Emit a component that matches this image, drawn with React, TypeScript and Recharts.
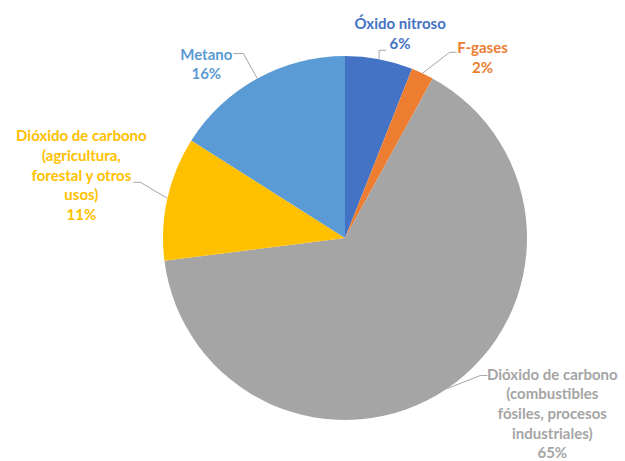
import { Cell, Pie, PieChart } from 'recharts'

// values (percent of total emissions)
const gases = [
  'Óxido nitroso',
  'F-gases',
  'Dióxido de carbono (combustibles fósiles, procesos industriales)',
  'Dióxido de carbono (agricultura, forestal y otros usos)',
  'Metano',
]
const shares = [6, 2, 65, 11, 16]
const labelLines = [
  ['Óxido nitroso'],
  ['F-gases'],
  ['Dióxido de carbono', '(combustibles', 'fósiles, procesos', 'industriales)'],
  ['Dióxido de carbono', '(agricultura,', 'forestal y otros', 'usos)'],
  ['Metano'],
]
const colors = ['#4472C4', '#ED7D31', '#A5A5A5', '#FFC000', '#5B9BD5']

// leader line + text placement for each slice
// elbow: offset from the slice's arc midpoint, run: horizontal segment,
// text: offset of the text block (center x, first line y) from line end
const layout = [
  { elbow: [0, -9], run: 7, text: [14, -27] },
  { elbow: [27, -21], run: 7, text: [26, -5] },
  { elbow: [33, -13], run: 7, text: [65, -2] },
  { elbow: [-27, -16], run: -7, text: [-52, -47] },
  { elbow: [-14, -25], run: -10, text: [-27, 0] },
]

const data = gases.map((name, i) => ({ name, value: shares[i] }))

const RAD = Math.PI / 180
const LINE_H = 19.7

function renderLabel(props: any) {
  const { cx, cy, midAngle, outerRadius, index, value } = props
  const ax = cx + outerRadius * Math.cos(-midAngle * RAD)
  const ay = cy + outerRadius * Math.sin(-midAngle * RAD)
  const l = layout[index]
  const ex = ax + l.elbow[0]
  const ey = ay + l.elbow[1]
  const hx = ex + l.run
  const tx = hx + l.text[0]
  const ty = ey + l.text[1]
  const lines = [...labelLines[index], `${value}%`]
  return (
    <g key={`lbl-${index}`}>
      <polyline
        points={`${ax},${ay} ${ex},${ey} ${hx},${ey}`}
        fill="none"
        stroke="#a6a6a6"
        strokeWidth={1}
      />
      <text
        x={tx}
        y={ty}
        textAnchor="middle"
        dominantBaseline="central"
        fill={colors[index]}
        fontFamily="Lato, sans-serif"
        fontWeight={700}
        fontSize={15}
      >
        {lines.map((t, k) => (
          <tspan key={k} x={tx} y={ty + k * LINE_H}>
            {t}
          </tspan>
        ))}
      </text>
    </g>
  )
}

export default function App() {
  return (
    <div style={{ position: 'absolute', left: 0, top: 0, background: '#fff' }}>
      <PieChart
        width={625}
        height={461}
        margin={{ top: 0, right: 0, bottom: 0, left: 0 }}
      >
        <Pie
          data={data}
          dataKey="value"
          nameKey="name"
          cx={345}
          cy={238}
          outerRadius={182}
          startAngle={90}
          endAngle={-270}
          stroke="none"
          label={renderLabel}
          labelLine={false}
          isAnimationActive={false}
        >
          {data.map((d, i) => (
            <Cell key={d.name} fill={colors[i]} />
          ))}
        </Pie>
      </PieChart>
    </div>
  )
}
